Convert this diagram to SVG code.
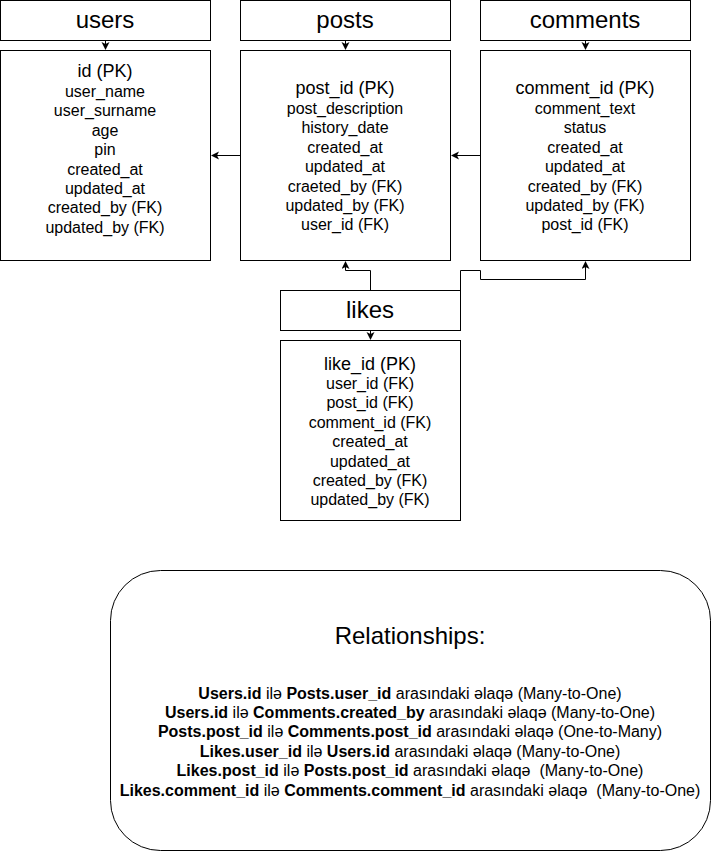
<svg xmlns="http://www.w3.org/2000/svg" width="711" height="851" viewBox="0 0 711 851">
<style>
.box{fill:#fff;stroke:#000;stroke-width:1}
.t{font-family:"Liberation Sans",Arial,sans-serif;fill:#000;text-anchor:middle}
.h{font-size:24px}
.pk{font-size:18px}
.f{font-size:16px}
.title{font-size:24px}
.rel{font-size:16px}
.b{font-weight:bold}
.c{fill:none;stroke:#000;stroke-width:1}
</style>
<defs>
<marker id="arr" markerUnits="userSpaceOnUse" markerWidth="10" markerHeight="10" refX="7" refY="4" orient="auto">
<path d="M0,0 L8,4 L0,8 L2,4 z" fill="#000"/>
</marker>
</defs>
<rect width="711" height="851" fill="#fff"/>
<g id="users">
<rect class="box" x="0.5" y="0.5" width="210" height="40"/>
<text class="t h" x="105" y="28">users</text>
<rect class="box" x="0.5" y="50.5" width="210" height="210"/>
<text class="t pk" x="105" y="77">id (PK)</text>
<text class="t f" x="105" y="97">user_name</text>
<text class="t f" x="105" y="116.4">user_surname</text>
<text class="t f" x="105" y="135.8">age</text>
<text class="t f" x="105" y="155.2">pin</text>
<text class="t f" x="105" y="174.6">created_at</text>
<text class="t f" x="105" y="194">updated_at</text>
<text class="t f" x="105" y="213.4">created_by (FK)</text>
<text class="t f" x="105" y="232.8">updated_by (FK)</text>
</g>
<g id="posts">
<rect class="box" x="240.5" y="0.5" width="210" height="40"/>
<text class="t h" x="345" y="28">posts</text>
<rect class="box" x="240.5" y="50.5" width="210" height="210"/>
<text class="t pk" x="345" y="94">post_id (PK)</text>
<text class="t f" x="345" y="114">post_description</text>
<text class="t f" x="345" y="133.4">history_date</text>
<text class="t f" x="345" y="152.8">created_at</text>
<text class="t f" x="345" y="172.2">updated_at</text>
<text class="t f" x="345" y="191.6">craeted_by (FK)</text>
<text class="t f" x="345" y="211">updated_by (FK)</text>
<text class="t f" x="345" y="230.4">user_id (FK)</text>
</g>
<g id="comments">
<rect class="box" x="480.5" y="0.5" width="210" height="40"/>
<text class="t h" x="585" y="28">comments</text>
<rect class="box" x="480.5" y="50.5" width="210" height="210"/>
<text class="t pk" x="585" y="94">comment_id (PK)</text>
<text class="t f" x="585" y="114">comment_text</text>
<text class="t f" x="585" y="133.4">status</text>
<text class="t f" x="585" y="152.8">created_at</text>
<text class="t f" x="585" y="172.2">updated_at</text>
<text class="t f" x="585" y="191.6">created_by (FK)</text>
<text class="t f" x="585" y="211">updated_by (FK)</text>
<text class="t f" x="585" y="230.4">post_id (FK)</text>
</g>
<g id="likes">
<rect class="box" x="280.5" y="290.5" width="180" height="40"/>
<text class="t h" x="370" y="318">likes</text>
<rect class="box" x="280.5" y="340.5" width="180" height="180"/>
<text class="t pk" x="370" y="370">like_id (PK)</text>
<text class="t f" x="370" y="389">user_id (FK)</text>
<text class="t f" x="370" y="408.4">post_id (FK)</text>
<text class="t f" x="370" y="427.8">comment_id (FK)</text>
<text class="t f" x="370" y="447.2">created_at</text>
<text class="t f" x="370" y="466.6">updated_at</text>
<text class="t f" x="370" y="486">created_by (FK)</text>
<text class="t f" x="370" y="505.4">updated_by (FK)</text>
</g>
<g id="relationships">
<rect class="box" x="110.5" y="570.5" width="600" height="280" rx="50" ry="50"/>
<text class="t title" x="410" y="644">Relationships:</text>
<text class="t rel" x="410" y="698.5"><tspan class="b">Users.id</tspan> ilə <tspan class="b">Posts.user_id</tspan> arasındaki əlaqə (Many-to-One)</text>
<text class="t rel" x="410" y="717.9"><tspan class="b">Users.id</tspan> ilə <tspan class="b">Comments.created_by</tspan> arasındaki əlaqə (Many-to-One)</text>
<text class="t rel" x="410" y="737.3"><tspan class="b">Posts.post_id</tspan> ilə <tspan class="b">Comments.post_id</tspan> arasındaki əlaqə (One-to-Many)</text>
<text class="t rel" x="410" y="756.7"><tspan class="b">Likes.user_id</tspan> ilə <tspan class="b">Users.id</tspan> arasındaki əlaqə (Many-to-One)</text>
<text class="t rel" x="410" y="776.1" xml:space="preserve"><tspan class="b">Likes.post_id</tspan> ilə <tspan class="b">Posts.post_id</tspan> arasındaki əlaqə  (Many-to-One)</text>
<text class="t rel" x="410" y="795.5" xml:space="preserve"><tspan class="b">Likes.comment_id</tspan> ilə <tspan class="b">Comments.comment_id</tspan> arasındaki əlaqə  (Many-to-One)</text>
</g>
<g id="connectors">
<path class="c" d="M105.5 41 V49" marker-end="url(#arr)"/>
<path class="c" d="M345.5 41 V49" marker-end="url(#arr)"/>
<path class="c" d="M585.5 41 V49" marker-end="url(#arr)"/>
<path class="c" d="M370.5 331 V339" marker-end="url(#arr)"/>
<path class="c" d="M240 155.5 H212" marker-end="url(#arr)"/>
<path class="c" d="M480 155.5 H452" marker-end="url(#arr)"/>
<path class="c" d="M370.5 290 V270.5 H345.5 V262" marker-end="url(#arr)"/>
<path class="c" d="M460.5 290 V270.5 H480.5 V279.5 H585.5 V262" marker-end="url(#arr)"/>
</g>
</svg>
